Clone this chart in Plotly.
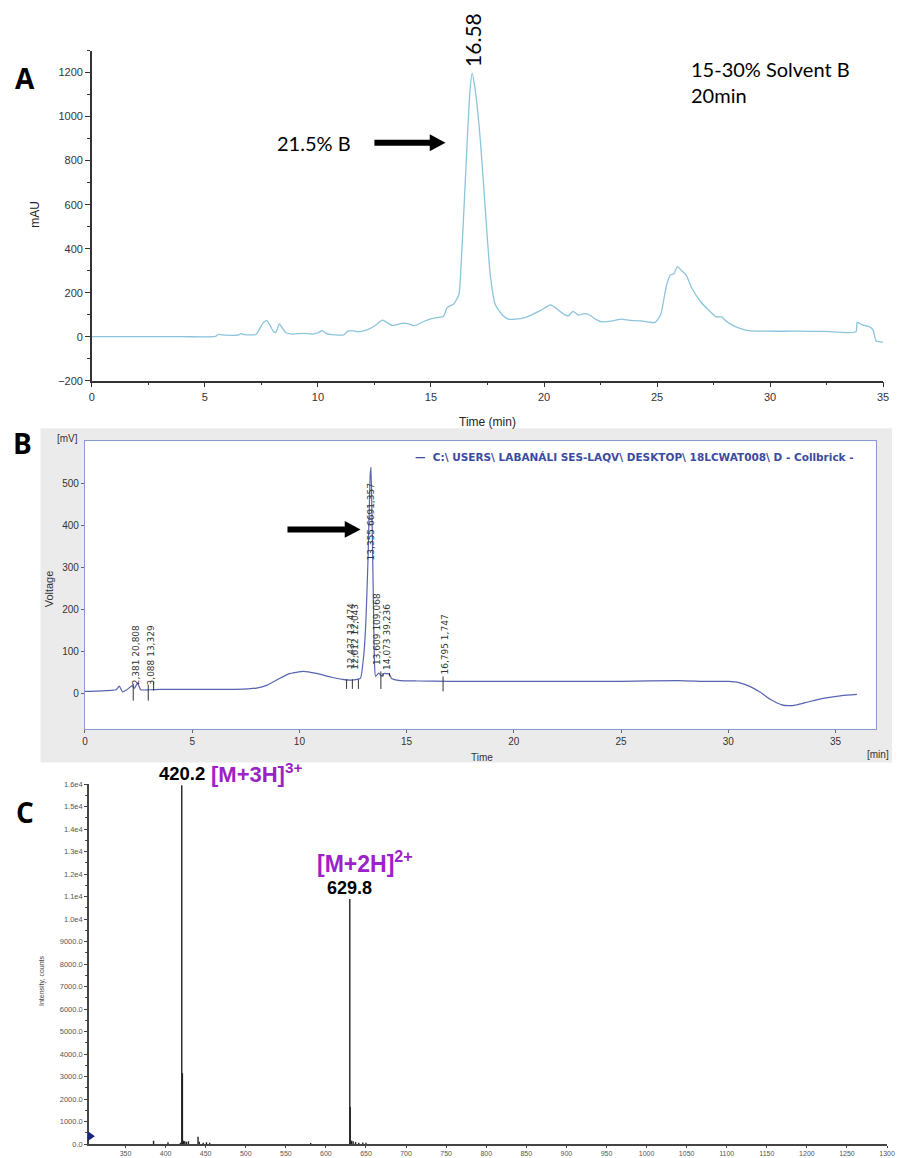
import plotly.graph_objects as go

W, H = 900, 1158

# ---------------- Panel A data (HPLC, mAU vs min) ----------------
tA = [0, 2, 4, 5.4, 5.5, 5.58, 5.9, 6.5, 6.58, 6.76, 7.26, 7.44, 7.59, 7.74, 7.89, 8.04, 8.14, 8.29,
      8.39, 8.59, 8.89, 9.39, 9.76, 10.01, 10.19, 10.39, 10.77, 11.14, 11.32, 11.52, 11.77, 12.14,
      12.52, 12.84, 12.94, 13.27, 13.52, 13.77, 14.02, 14.27, 14.65, 15.02, 15.35, 15.55, 15.7,
      15.8, 16.02, 16.24, 16.31, 16.46, 16.6, 16.72, 16.82, 16.97, 17.19, 17.4, 17.62, 17.84,
      18.13, 18.42, 19.08, 19.81, 20.28, 20.53, 20.91, 21.08, 21.28, 21.53, 21.78, 21.96, 22.28,
      22.53, 23.03, 23.41, 23.79, 24.29, 24.66, 24.91, 25.16, 25.41, 25.59, 25.74, 25.91, 26.04,
      26.29, 26.54, 26.92, 27.29, 27.62, 27.87, 27.97, 28.29, 28.67, 29.04, 29.67, 31.17, 32.42,
      33.8, 33.85, 34.05, 34.3, 34.4, 34.56, 34.69, 35.0]
yA = [0, 0, 0, 0, 3, 10, 7, 8, 14, 9, 10, 40, 65, 73, 50, 22, 20, 58,
      45, 18, 12, 15, 12, 18, 28, 14, 8, 8, 25, 28, 22, 30,
      50, 75, 72, 52, 55, 62, 58, 50, 68, 82, 88, 92, 130,
      138, 150, 193, 283, 583, 884, 1110, 1197, 1110, 884, 583, 283, 147,
      102, 80, 84, 117, 145, 130, 100, 95, 115, 98, 105, 102, 80,
      68, 72, 80, 74, 72, 66, 65, 100, 230, 280, 285, 320, 305,
      280, 220, 160, 120, 90, 90, 78, 55, 38, 28, 25, 25, 24,
      22, 65, 55, 48, 45, 30, -20, -25]

# ---------------- Panel B data (HPLC, mV vs min) ----------------
tB = [0, 1.0, 1.45, 1.6, 1.75, 1.95, 2.2, 2.3, 2.45, 2.6, 3.0, 3.5, 5, 7, 8, 8.5, 9, 9.5, 10.2,
      10.8, 11.5, 12.0, 12.4, 12.7, 12.85, 13.0, 13.1, 13.2, 13.3, 13.34, 13.4, 13.45, 13.5,
      13.55, 13.7, 13.85, 13.95, 14.2, 14.3, 14.7, 15.5, 17, 20, 25, 27.7, 29, 30, 30.5, 31,
      31.5, 32, 32.5, 32.8, 33.2, 33.8, 34.5, 35.3, 36]
vB = [4, 6, 8, 17, 3, 8, 18, 11, 24, 8, 8, 9, 9, 9, 12, 19, 33, 46, 52,
      47, 38, 33, 31, 33, 36, 90, 170, 320, 520, 540, 380, 220, 70,
      40, 48, 40, 47, 45, 35, 30, 29, 28, 28, 28, 30, 28, 28, 25, 16,
      2, -16, -28, -30, -28, -20, -12, -6, -3]

peak_t = [2.381, 3.088, 12.437, 12.612, 13.355, 13.609, 14.073, 16.795]
peak_text = ["2,381 20,808", "3,088 13,329", "12,437 13,474", "12,612 12,043",
             "13,355 6691,357", "13,609 109,068", "14,073 39,236", "16,795 1,747"]
peak_text_base = [14, 14, 52, 52, 312, 62, 50, 40]

mark_t = [2.25, 2.95, 3.2, 12.2, 12.47, 12.75, 13.8, 13.9, 14.2, 16.7]
mark_lo = [-18, -18, 6, 10, 10, 10, 10, 40, 40, 4]
mark_hi = [22, 20, 28, 33, 33, 33, 52, 48, 48, 40]

# ---------------- Panel C data (MS spectrum) ----------------
mz = [385.0, 403.0, 418.5, 420.2, 421.0, 422.5, 424.0, 426.0, 428.5, 440.5, 442.0, 447.0,
      451.0, 455.0, 581.0, 629.8, 630.3, 632.0, 634.0, 637.0, 641.0, 646.0, 650.0]
inten = [150, 80, 60, 15950, 3150, 150, 120, 100, 130, 320, 100, 60,
         80, 60, 50, 10900, 1650, 150, 120, 90, 60, 70, 60]

c_yvals = list(range(0, 17000, 1000))
c_ytext = ["0.0", "1000.0", "2000.0", "3000.0", "4000.0", "5000.0", "6000.0", "7000.0",
           "8000.0", "9000.0", "1.0e4", "1.1e4", "1.2e4", "1.3e4", "1.4e4", "1.5e4", "1.6e4"]
c_xvals = list(range(350, 1301, 50))


def px(x):
    return x / W


def py(y):
    return 1 - y / H


fig = go.Figure()

# Panel A trace
fig.add_trace(go.Scatter(x=tA, y=yA, mode="lines",
                         line=dict(color="#8cc4dc", width=1.3, shape="spline", smoothing=0.5),
                         xaxis="x", yaxis="y", showlegend=False, hoverinfo="skip"))

# Panel B trace
fig.add_trace(go.Scatter(x=tB, y=vB, mode="lines",
                         line=dict(color="#5664b0", width=1.2, shape="spline", smoothing=0.4),
                         xaxis="x2", yaxis="y2", showlegend=False, hoverinfo="skip"))

# Panel B integration marks
mx, my = [], []
for t, lo, hi in zip(mark_t, mark_lo, mark_hi):
    mx += [t, t, None]
    my += [lo, hi, None]
fig.add_trace(go.Scatter(x=mx, y=my, mode="lines", line=dict(color="#333333", width=1),
                         xaxis="x2", yaxis="y2", showlegend=False, hoverinfo="skip"))

# Panel C sticks
sx, sy = [], []
for m, i in zip(mz, inten):
    sx += [m, m, None]
    sy += [0, i, None]
fig.add_trace(go.Scatter(x=sx, y=sy, mode="lines", line=dict(color="#222222", width=1.4),
                         xaxis="x3", yaxis="y3", showlegend=False, hoverinfo="skip"))

tickA = dict(family="Liberation Sans", size=11, color="#333333")

fig.update_layout(
    width=W, height=H, margin=dict(l=0, r=0, t=0, b=0),
    paper_bgcolor="white", plot_bgcolor="rgba(0,0,0,0)",
    showlegend=False,
    xaxis=dict(domain=[px(90), px(891)], range=[0, 35], anchor="y",
               showline=True, linecolor="#333333", linewidth=1.5, ticks="outside",
               ticklen=5, tickcolor="#333333", dtick=5, showgrid=False, zeroline=False,
               tickfont=tickA, minor=dict(dtick=2.5, ticks="outside", ticklen=3, tickcolor="#333333")),
    yaxis=dict(domain=[py(380), py(47)], range=[-200, 1300], anchor="x",
               showline=True, linecolor="#333333", linewidth=1.5, ticks="outside",
               ticklen=5, tickcolor="#333333", dtick=200, showgrid=False, zeroline=False,
               tickfont=tickA, minor=dict(dtick=100, ticks="outside", ticklen=3, tickcolor="#333333")),
    xaxis2=dict(domain=[px(83), px(884)], range=[0, 36.9], anchor="y2",
                showline=True, linecolor="#8a9ad0", linewidth=1.2, mirror=True,
                ticks="outside", ticklen=3, tickcolor="#666666", dtick=5, showgrid=False,
                zeroline=False, tickfont=dict(family="Liberation Sans", size=10, color="#333333")),
    yaxis2=dict(domain=[py(731), py(441)], range=[-85, 602], anchor="x2",
                showline=True, linecolor="#8a9ad0", linewidth=1.2, mirror=True,
                ticks="outside", ticklen=3, tickcolor="#666666",
                tickvals=[0, 100, 200, 300, 400, 500], showgrid=False,
                zeroline=False, tickfont=dict(family="Liberation Sans", size=10, color="#333333")),
    xaxis3=dict(domain=[px(87), px(895)], range=[304.4, 1300], anchor="y3",
                showline=True, linecolor="#444444", linewidth=1.5, ticks="outside",
                ticklen=2, tickcolor="#444444", tickvals=c_xvals, showgrid=False, zeroline=False,
                tickfont=dict(family="Liberation Sans", size=7, color="#555555")),
    yaxis3=dict(domain=[py(1150), py(787)], range=[0, 16000], anchor="x3",
                showline=True, linecolor="#444444", linewidth=1.5, ticks="outside",
                ticklen=3, tickcolor="#444444", tickvals=c_yvals, ticktext=c_ytext,
                showgrid=False, zeroline=False,
                tickfont=dict(family="Liberation Sans", size=7.5, color="#555555"),
                minor=dict(dtick=500, ticks="outside", ticklen=2, tickcolor="#444444")),
)

# Panel B background panels
fig.add_shape(type="rect", xref="paper", yref="paper", x0=px(38), x1=1.0, y0=py(765), y1=py(428),
              fillcolor="#ebebeb", line=dict(width=0), layer="below")
fig.add_shape(type="rect", xref="paper", yref="paper", x0=px(83), x1=px(884), y0=py(731), y1=py(441),
              fillcolor="white", line=dict(width=0), layer="below")

# small cursor marker at the bottom-left of panel C
fig.add_shape(type="path", xref="paper", yref="paper",
              path="M {} {} L {} {} L {} {} Z".format(px(86), py(1137), px(93), py(1142), px(86), py(1147)),
              fillcolor="#1a237e", line=dict(width=0))


def arrow(x0, x1, yc, head=16, shaft=6, hh=17):
    fig.add_shape(type="line", xref="paper", yref="paper", x0=px(x0), x1=px(x1 - head + 2),
                  y0=py(yc), y1=py(yc), line=dict(color="black", width=shaft))
    path = "M {} {} L {} {} L {} {} Z".format(px(x1 - head), py(yc - hh / 2), px(x1), py(yc),
                                            px(x1 - head), py(yc + hh / 2))
    fig.add_shape(type="path", xref="paper", yref="paper", path=path, fillcolor="black",
                  line=dict(color="black", width=0))


arrow(376, 448, 140)
arrow(288, 362, 530)

ann = []


def txt(x, y, s, size, color="black", family="Lato", angle=0, xanchor="center", yanchor="middle",
        xref="paper", yref="paper"):
    ann.append(dict(x=x, y=y, xref=xref, yref=yref, text=s, showarrow=False, textangle=angle,
                    xanchor=xanchor, yanchor=yanchor,
                    font=dict(family=family, size=size, color=color)))


# Panel labels
txt(px(22), py(75), "<b>A</b>", 28, family="Open Sans")
txt(px(20), py(443), "<b>B</b>", 28, family="Open Sans")
txt(px(22), py(815), "<b>C</b>", 28, family="Open Sans")

# Panel A texts
txt(px(475), py(36), "16.58", 21, angle=-90)
txt(px(694), py(66), "15-30% Solvent B", 20, xanchor="left")
txt(px(694), py(92), "20min", 20, xanchor="left")
txt(px(315), py(140), "21.5% B", 20)
txt(px(33), py(212), "mAU", 12, family="Liberation Sans", angle=-90, color="#222222")
txt(px(490), py(422), "Time (min)", 12, family="Liberation Sans", color="#222222")

# Panel B texts
txt(px(65), py(438), "[mV]", 10, family="Liberation Sans", color="#333333")
txt(px(46), py(590), "Voltage", 11, family="Liberation Sans", angle=-90, color="#333333")
txt(px(485), py(760), "Time", 10, family="Liberation Sans", color="#333333")
txt(px(886), py(757), "[min]", 10, family="Liberation Sans", color="#333333")
txt(px(415), py(457), "<b>—  C:\\ USERS\\ LABANÁLI SES-LAQV\\ DESKTOP\\ 18LCWAT008\\ D - Collbrick -</b>",
    10.5, family="DejaVu Sans", color="#3b4ba0", xanchor="left")
for t, s, b in zip(peak_t, peak_text, peak_text_base):
    txt(t, b, s, 9, family="DejaVu Sans", color="#333333", angle=-90,
        yanchor="bottom", xref="x2", yref="y2")

# Panel C texts
txt(px(40), py(985), "Intensity, counts", 7, family="Liberation Sans", angle=-90, color="#444444")
txt(px(181), py(776), "<b>420.2</b>", 18.5, family="Liberation Sans", color="black")
txt(px(209), py(776), "<b>[M+3H]<sup>3+</sup></b>", 22, family="Liberation Sans",
    color="#9b22c8", xanchor="left")
txt(px(366), py(865), "<b>[M+2H]<sup>2+</sup></b>", 23, family="Liberation Sans", color="#9b22c8")
txt(px(351), py(892), "<b>629.8</b>", 18, family="Liberation Sans", color="black")

fig.update_layout(annotations=ann)
fig.write_html("out.html", config={"displayModeBar": False},
               post_script="document.body.style.margin='0px';")
